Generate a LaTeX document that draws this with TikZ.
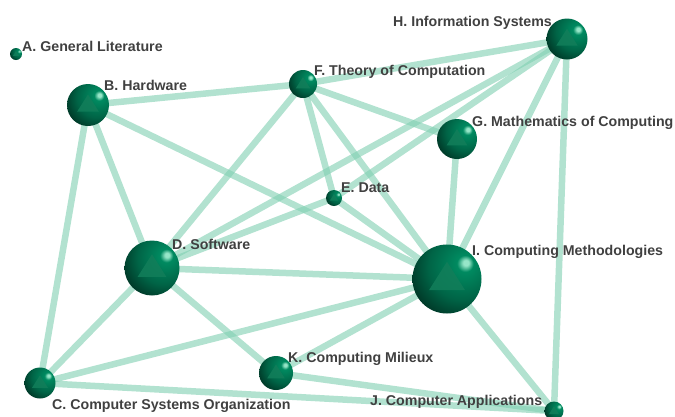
\documentclass[tikz,border=0pt]{standalone}
\usepackage{fontspec}
\setmainfont{Liberation Sans}
\usetikzlibrary{calc,backgrounds}
\definecolor{edgec}{RGB}{127,207,177}
\definecolor{labc}{RGB}{64,64,64}
\definecolor{sphHi}{RGB}{150,230,200}
\definecolor{sphLt}{RGB}{0,138,96}
\definecolor{sphMid}{RGB}{0,100,70}
\definecolor{sphDk}{RGB}{0,40,28}
\definecolor{sphTri}{RGB}{18,126,90}
\pgfdeclareradialshading{gsphere}{\pgfpoint{14bp}{12bp}}{color(0bp)=(sphHi); color(2bp)=(sphHi); color(6bp)=(sphLt); color(24bp)=(sphMid); color(42bp)=(sphDk); color(53bp)=(black); color(100bp)=(black)}
\begin{document}
\begin{tikzpicture}[x=1pt,y=-1pt,
  sph/.style={circle, inner sep=0pt, minimum size=#1*2pt, shading=gsphere,
    path picture={\fill[sphTri, opacity=0.85] ($(path picture bounding box.center)+(0,-0.5*#1)$) -- ++(0.52*#1,0.82*#1) -- ++(-1.04*#1,0) -- cycle;}},
  lab/.style={anchor=base west, inner sep=0pt, text=labc, font=\fontsize{14.2}{17}\selectfont\bfseries},
  edge/.style={draw=edgec, line width=6.5pt, opacity=0.6}]
\useasboundingbox (0,0) rectangle (675,416);
% spheres
\node[sph=6]    (A) at (16,54) {};
\node[sph=21]   (B) at (88,105) {};
\node[sph=15.5] (C) at (40,383) {};
\node[sph=27.5] (D) at (152,268) {};
\node[sph=8]    (E) at (334,198) {};
\node[sph=14]   (F) at (303,84) {};
\node[sph=20]   (G) at (457,139) {};
\node[sph=20.5] (H) at (567,39) {};
\node[sph=34.5] (I) at (447,279) {};
\node[sph=9.5]  (J) at (554,411) {};
\node[sph=17]   (K) at (276,373) {};
% edges
\begin{scope}[on background layer]
\foreach \u/\v in {B/F,B/C,B/D,B/I,F/D,F/E,F/I,F/G,F/H,H/D,H/E,H/I,H/J,G/I,D/E,D/I,D/C,D/K,C/I,C/J,K/I,K/J,I/J,E/I}
  \draw[edge] (\u.center) -- (\v.center);
\end{scope}
% labels
\node[lab] (Al) at (22,51) {A. General Literature};
\node[lab] (Bl) at (104,90) {B. Hardware};
\node[lab] (Cl) at (52,409) {C. Computer Systems Organization};
\node[lab] (Dl) at (172,249) {D. Software};
\node[lab] (El) at (341,192) {E. Data};
\node[lab] (Fl) at (314,75) {F. Theory of Computation};
\node[lab] (Gl) at (472,126) {G. Mathematics of Computing};
\node[lab] (Hl) at (393,26) {H. Information Systems};
\node[lab] (Il) at (472,255) {I. Computing Methodologies};
\node[lab] (Jl) at (370,405) {J. Computer Applications};
\node[lab] (Kl) at (288,362) {K. Computing Milieux};
\end{tikzpicture}
\end{document}
